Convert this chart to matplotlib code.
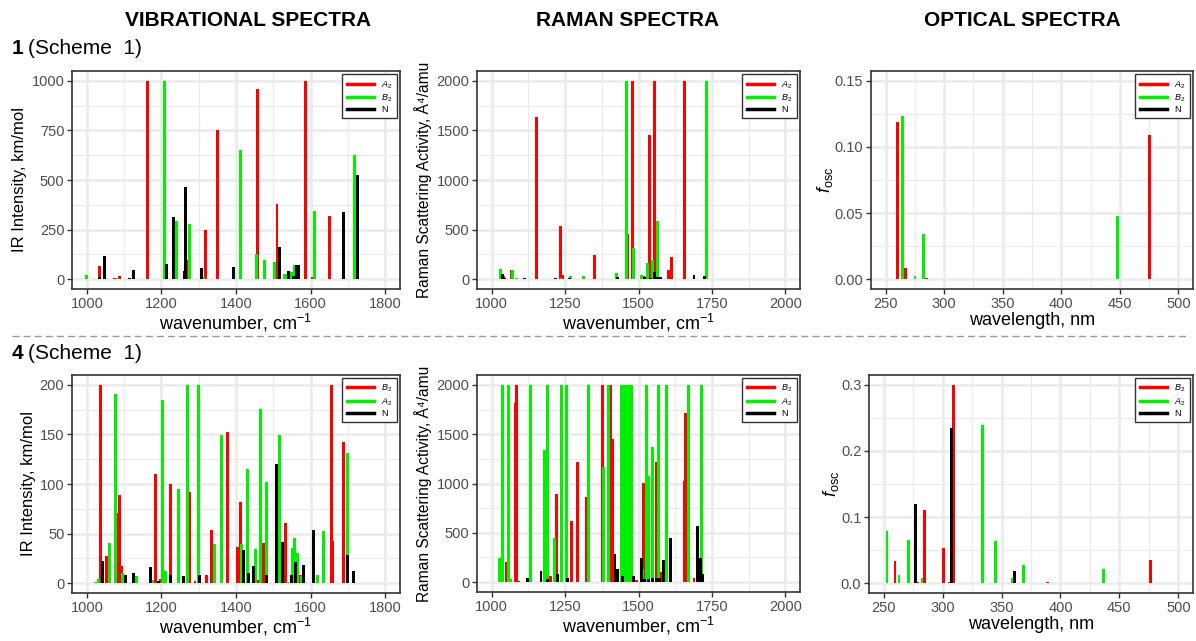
import matplotlib
matplotlib.use('Agg')
import matplotlib.pyplot as plt
from matplotlib.lines import Line2D
from matplotlib.ticker import MultipleLocator, FormatStrFormatter

plt.rcParams['font.family'] = ['Liberation Sans', 'DejaVu Sans']
plt.rcParams['mathtext.fontset'] = 'custom'
plt.rcParams['mathtext.rm'] = 'Liberation Sans'
plt.rcParams['mathtext.it'] = 'Liberation Sans:italic'
plt.rcParams['mathtext.bf'] = 'Liberation Sans:bold'

##------------ compound 1 -----------------##
# IR, km/mol
ir1_a2_x = [1035, 1073, 1087, 1162, 1237, 1271, 1317, 1351, 1457, 1510, 1586, 1604, 1650]
ir1_a2_y = [67, 5, 17, 1000, 10, 94, 246, 752, 961, 380, 1000, 10, 317]
ir1_b2_x = [1000, 1082, 1207, 1241, 1276, 1314, 1412, 1455, 1476, 1504, 1531, 1537, 1549, 1557, 1611, 1718]
ir1_b2_y = [20, 8, 1000, 295, 280, 10, 653, 129, 97, 85, 25, 28, 35, 69, 342, 626]
ir1_n_x = [1033, 1046, 1113, 1124, 1214, 1232, 1262, 1265, 1308, 1394, 1517, 1542, 1555, 1563, 1568, 1689, 1726]
ir1_n_y = [10, 117, 5, 48, 77, 315, 40, 466, 57, 62, 162, 42, 15, 73, 72, 338, 523]

# Raman, A^4/amu
ra1_a2_x = [1039, 1067, 1154, 1203, 1233, 1240, 1285, 1350, 1464, 1479, 1516, 1536, 1555, 1603, 1612, 1656]
ra1_a2_y = [30, 90, 1631, 5, 533, 40, 5, 248, 459, 2000, 35, 1457, 2000, 90, 224, 2000]
ra1_b2_x = [1031, 1072, 1084, 1206, 1236, 1268, 1314, 1425, 1458, 1483, 1509, 1531, 1547, 1566, 1732]
ra1_b2_y = [104, 88, 15, 5, 15, 30, 30, 57, 2000, 315, 45, 167, 191, 583, 2000]
ra1_n_x = [1036, 1043, 1112, 1218, 1265, 1394, 1430, 1520, 1541, 1553, 1560, 1568, 1575, 1689, 1726]
ra1_n_y = [47, 10, 7, 10, 10, 3, 20, 20, 15, 70, 20, 20, 20, 45, 30]

# optical, f_osc
op1_a2_x = [260.4, 267.0, 285.0, 475.4]
op1_a2_y = [0.119, 0.0085, 0.001, 0.109]
op1_b2_x = [264.6, 275.0, 282.5, 448.0]
op1_b2_y = [0.1236, 0.002, 0.034, 0.0477]
op1_n_x = []
op1_n_y = []

##------------ compound 4 -----------------##
ir4_b2_x = [1037, 1053, 1080, 1087, 1093, 1183, 1198, 1223, 1274, 1290, 1322, 1335, 1378, 1403, 1412,
            1461, 1475, 1533, 1573, 1657, 1660, 1689]
ir4_b2_y = [200, 27, 71, 89, 17, 110, 4, 100, 92, 2, 8, 54, 152, 36, 82, 3, 40, 61, 8, 200, 42, 142]
ir4_a2_x = [1024, 1032, 1060, 1077, 1095, 1133, 1176, 1204, 1211, 1245, 1269, 1300, 1343, 1362, 1414,
            1430, 1453, 1467, 1481, 1516, 1537, 1552, 1556, 1564, 1575, 1618, 1636, 1699]
ir4_a2_y = [1, 4, 40, 191, 10, 7, 3, 185, 12, 95, 200, 200, 39, 149, 39, 115, 34, 176, 102, 149, 1,
            35, 46, 30, 7, 8, 53, 131]
ir4_n_x = [1041, 1103, 1125, 1170, 1191, 1225, 1258, 1301, 1419, 1433, 1448, 1482, 1509, 1525, 1548,
           1559, 1582, 1608, 1700, 1715]
ir4_n_y = [22, 8, 10, 16, 2, 8, 7, 8, 33, 10, 17, 8, 120, 41, 8, 21, 18, 54, 28, 12]

ra4_b2_x = [1050, 1081, 1086, 1093, 1199, 1222, 1271, 1291, 1322, 1370, 1376, 1405, 1412, 1476, 1494,
            1516, 1560, 1575, 1655, 1660, 1689]
ra4_b2_y = [200, 1816, 2000, 10, 67, 896, 622, 1214, 863, 5, 2000, 2000, 1448, 405, 25, 1003, 1221,
            100, 1030, 1716, 43]
ra4_a2_x = [1028, 1036, 1058, 1063, 1132, 1179, 1185, 1190, 1215, 1237, 1255, 1330, 1382, 1398,
            1443, 1447, 1451, 1455, 1459, 1463, 1467, 1471, 1475,
            1513, 1527, 1534, 1546, 1548, 1569, 1595, 1669, 1713]
ra4_a2_y = [244, 2000, 2000, 30, 2000, 1341, 535, 2000, 445, 2000, 2000, 2000, 1164, 2000,
            2000, 2000, 2000, 2000, 2000, 2000, 2000, 2000, 2000,
            130, 2000, 1080, 140, 1371, 2000, 2000, 2000, 2000]
ra4_n_x = [1040, 1123, 1168, 1190, 1224, 1257, 1340, 1420, 1427, 1447, 1483, 1510, 1522, 1533, 1547,
           1560, 1572, 1585, 1609, 1700, 1711, 1718]
ra4_n_y = [5, 43, 110, 30, 87, 45, 5, 284, 134, 67, 60, 244, 30, 30, 45, 45, 45, 221, 445, 569, 247, 80]

op4_b2_x = [259.5, 278.5, 284.5, 300.5, 305.5, 309.1, 389.3, 476.7]
op4_b2_y = [0.033, 0.002, 0.110, 0.053, 0.001, 0.300, 0.001, 0.035]
op4_a2_x = [252.8, 263.0, 270.7, 282.5, 334.0, 344.7, 359.3, 368.3, 436.7]
op4_a2_y = [0.079, 0.0116, 0.0656, 0.008, 0.239, 0.0635, 0.008, 0.027, 0.0217]
op4_n_x = [277.2, 307.2, 361.0]
op4_n_y = [0.12, 0.235, 0.019]

##------------ figure -----------------##
W, H = 1196, 641
RED, GREEN, BLACK = '#FF0000', '#00F000', '#000000'
fig = plt.figure(figsize=(W/100, H/100), dpi=100)

def px_axes(l, t, r, b):
    return fig.add_axes([l/W, 1 - b/H, (r - l)/W, (b - t)/H])

def panel(ax, series, labels, width, xlim, xmaj, ylim, ymaj, yfmt, xlabel, ylabel,
          ylsize=12, ylpad=3):
    for (x, y, c) in series:
        ax.bar(x, y, width=width, color=c, linewidth=0, zorder=3)
    ax.set_xlim(xlim[0] - 0.05*(xlim[1]-xlim[0]), xlim[1] + 0.05*(xlim[1]-xlim[0]))
    ax.set_ylim(ylim[0] - 0.05*(ylim[1]-ylim[0]), ylim[1] + 0.05*(ylim[1]-ylim[0]))
    ax.xaxis.set_major_locator(MultipleLocator(xmaj))
    ax.xaxis.set_minor_locator(MultipleLocator(xmaj/2))
    ax.yaxis.set_major_locator(MultipleLocator(ymaj))
    ax.yaxis.set_minor_locator(MultipleLocator(ymaj/2))
    ax.yaxis.set_major_formatter(FormatStrFormatter(yfmt))
    ax.grid(which='major', color='#EBEBEB', lw=1.8, zorder=0)
    ax.grid(which='minor', color='#EBEBEB', lw=0.9, zorder=0)
    ax.set_axisbelow(True)
    for s in ax.spines.values():
        s.set_color('#333333')
        s.set_linewidth(1.2)
    ax.tick_params(which='major', length=3.5, width=1, color='#333333',
                   labelcolor='#4D4D4D', labelsize=10.5, pad=2)
    ax.tick_params(which='minor', length=0)
    ax.set_xlabel(xlabel, fontsize=13, labelpad=1)
    ax.set_ylabel(ylabel, fontsize=ylsize, labelpad=ylpad)
    handles = [Line2D([], [], color=c, lw=2.5) for (_, _, c) in series]
    leg = ax.legend(handles, labels, loc='upper right', fontsize=6.5, handlelength=3.0,
                    handletextpad=0.8, labelspacing=0.15, borderpad=0.5,
                    borderaxespad=0.3, fancybox=False, framealpha=1)
    leg.get_frame().set_edgecolor('#333333')
    leg.get_frame().set_linewidth(1.0)

wn = 'wavenumber, cm$^{-1}$'
ir_lab = 'IR Intensity, km/mol'
ra_lab = 'Raman Scattering Activity, Å⁴/amu'
f_lab = r'$f_{\mathrm{osc}}$'
lab1 = [r'$A_2$', r'$B_2$', 'N']
lab4 = [r'$B_2$', r'$A_2$', 'N']

ax1 = px_axes(72, 71, 400, 289)
panel(ax1, [(ir1_a2_x, ir1_a2_y, RED), (ir1_b2_x, ir1_b2_y, GREEN), (ir1_n_x, ir1_n_y, BLACK)],
      lab1, 8, (1000, 1800), 200, (0, 1000), 250, '%d', wn, ir_lab)
ax2 = px_axes(477, 71, 800, 289)
panel(ax2, [(ra1_a2_x, ra1_a2_y, RED), (ra1_b2_x, ra1_b2_y, GREEN), (ra1_n_x, ra1_n_y, BLACK)],
      lab1, 10, (1000, 2000), 250, (0, 2000), 500, '%d', wn, ra_lab, 11.2)
ax3 = px_axes(871, 71, 1193, 289)
panel(ax3, [(op1_a2_x, op1_a2_y, RED), (op1_b2_x, op1_b2_y, GREEN), (op1_n_x, op1_n_y, BLACK)],
      lab1, 2.4, (250, 500), 50, (0, 0.15), 0.05, '%.2f', 'wavelength, nm', f_lab, 13, 0)

ax4 = px_axes(72, 375, 400, 593)
panel(ax4, [(ir4_b2_x, ir4_b2_y, RED), (ir4_a2_x, ir4_a2_y, GREEN), (ir4_n_x, ir4_n_y, BLACK)],
      lab4, 8, (1000, 1800), 200, (0, 200), 50, '%d', wn, ir_lab)
ax5 = px_axes(477, 375, 800, 592)
panel(ax5, [(ra4_b2_x, ra4_b2_y, RED), (ra4_a2_x, ra4_a2_y, GREEN), (ra4_n_x, ra4_n_y, BLACK)],
      lab4, 10, (1000, 2000), 250, (0, 2000), 500, '%d', wn, ra_lab, 11.2)
ax6 = px_axes(869, 375, 1193, 593)
panel(ax6, [(op4_b2_x, op4_b2_y, RED), (op4_a2_x, op4_a2_y, GREEN), (op4_n_x, op4_n_y, BLACK)],
      lab4, 2.4, (250, 500), 50, (0, 0.3), 0.1, '%.1f', 'wavelength, nm', f_lab, 13, 0)

# column headings
for xc, txt in [(248, 'VIBRATIONAL SPECTRA'), (628, 'RAMAN SPECTRA'), (1022, 'OPTICAL SPECTRA')]:
    fig.text(xc/W, 1 - 21/H, txt, ha='center', va='center', fontsize=15, fontweight='bold')

# row labels
for yc, num in [(48, '1'), (354, '4')]:
    fig.text(12/W, 1 - yc/H, num, ha='left', va='center', fontsize=15, fontweight='bold')
    fig.text(28/W, 1 - yc/H, '(Scheme  1)', ha='left', va='center', fontsize=15)

# separator
fig.add_artist(Line2D([12/W, 1190/W], [1 - 336/H, 1 - 336/H], transform=fig.transFigure,
                      ls=(0, (5, 3)), color='#9A9A9A', lw=1))

plt.savefig('out.png', dpi=100)
